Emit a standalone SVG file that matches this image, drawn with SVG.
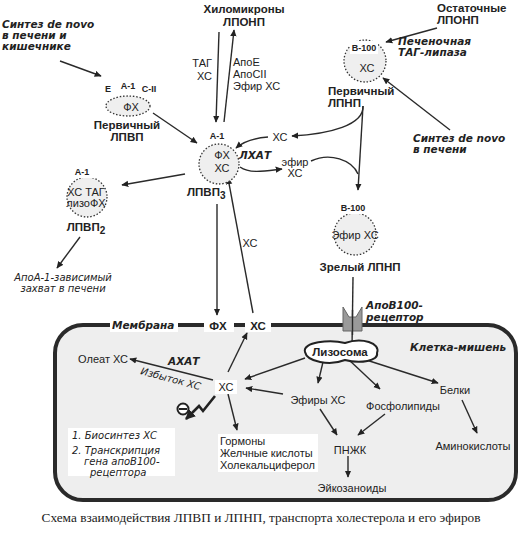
<svg xmlns="http://www.w3.org/2000/svg" width="521" height="542" viewBox="0 0 521 542">
<defs>
<marker id="ah" viewBox="0 0 10 10" refX="9" refY="5" markerWidth="7" markerHeight="7" orient="auto" markerUnits="userSpaceOnUse"><path d="M0,0.5 L10,5 L0,9.5 Z" fill="#222"/></marker>
<marker id="ahb" viewBox="0 0 10 10" refX="9" refY="5" markerWidth="10" markerHeight="10" orient="auto" markerUnits="userSpaceOnUse"><path d="M0,0 L10,5 L0,10 Z" fill="#222"/></marker>
</defs>
<style>
.t{font-family:"Liberation Sans",Arial,sans-serif;font-size:11px;fill:#222}
.b{font-family:"Liberation Sans",Arial,sans-serif;font-size:11.5px;font-weight:bold;fill:#222}
.s{font-family:"Liberation Sans",Arial,sans-serif;font-size:9px;font-weight:bold;fill:#222}
.bi{font-family:"DejaVu Sans",Verdana,sans-serif;font-size:10.5px;font-weight:bold;font-style:italic;fill:#222}
.i{font-family:"DejaVu Sans",Verdana,sans-serif;font-size:10px;font-style:italic;fill:#222}
.c{text-anchor:middle}
.ln{fill:none;stroke:#2a2a2a;stroke-width:1.4;marker-end:url(#ah)}
.part{fill:#efefef;stroke:#333;stroke-width:1.3;stroke-dasharray:1.5 1.8}
.wb{fill:#fff}
</style>
<rect width="521" height="542" fill="#fff"/>

<!-- cell -->
<g id="cell">
<rect x="55" y="325" width="461" height="175" rx="28" fill="#eeeeee" stroke="#2a2a2a" stroke-width="4"/>
<rect x="110" y="318" width="68" height="14" fill="#fff"/>
<rect x="204" y="318" width="30" height="14" fill="#fff"/>
<rect x="245" y="318" width="26" height="14" fill="#fff"/>
<text class="bi" x="112" y="329">Мембрана</text>
<text class="b" x="218" y="330" text-anchor="middle">ФХ</text>
<text class="b" x="258" y="330" text-anchor="middle">ХС</text>
<text class="bi" x="410" y="351">Клетка-мишень</text>
</g>

<!-- connectors -->
<g id="connectors">
<line class="ln" x1="219" y1="32" x2="216" y2="122"/>
<line class="ln" x1="224" y1="122" x2="234" y2="30"/>
<line class="ln" x1="60" y1="61" x2="101" y2="76"/>
<line class="ln" x1="153" y1="113" x2="197" y2="143"/>
<line class="ln" x1="437" y1="28" x2="386" y2="42"/>
<line class="ln" x1="450" y1="130" x2="383" y2="78"/>
<path class="ln" d="M363,106 C364,125 330,134 292,136"/>
<path class="ln" d="M363,106 L358,190"/>
<path class="ln" d="M268,137 C255,138 244,141 236,148"/>
<path class="ln" d="M240,167 C250,174 265,171 282,169"/>
<path class="ln" d="M311,161 C330,152 352,160 358,174" style="marker-end:none"/>
<line class="ln" x1="185" y1="174" x2="122" y2="185"/>
<line class="ln" x1="80" y1="237" x2="57" y2="268"/>
<line class="ln" x1="217" y1="204" x2="217" y2="315"/>
<line class="ln" x1="253" y1="313" x2="228" y2="178"/>
<line class="ln" x1="353" y1="277" x2="352" y2="348"/>
<line class="ln" x1="228" y1="372" x2="247" y2="333"/>
<line class="ln" x1="213" y1="380" x2="130" y2="359"/>
<line class="ln" x1="305" y1="358" x2="245" y2="379"/>
<line class="ln" x1="283" y1="394" x2="246" y2="388"/>
<line class="ln" x1="228" y1="394" x2="237" y2="430"/>
<line class="ln" x1="323" y1="362" x2="318" y2="383"/>
<line class="ln" x1="348" y1="359" x2="380" y2="389"/>
<line class="ln" x1="357" y1="357" x2="438" y2="383"/>
<line class="ln" x1="462" y1="400" x2="477" y2="433"/>
<line class="ln" x1="320" y1="409" x2="337" y2="435"/>
<line class="ln" x1="385" y1="414" x2="358" y2="435"/>
<line class="ln" x1="348" y1="456" x2="348" y2="477"/>
<path d="M215,396 L203,411 L199,406 L186,419" fill="none" stroke="#222" stroke-width="2.6" marker-end="url(#ahb)"/>
</g>

<!-- receptor -->
<g id="receptor">
<path d="M343,307 L349,317 L356,317 L362,307 L362,331 L343,331 Z" fill="#9a9a9a" stroke="#666" stroke-width="1"/>
<line x1="352.5" y1="310" x2="352.5" y2="335" stroke="#2a2a2a" stroke-width="1.4"/>
<text class="bi" x="366" y="309">АпоВ100-</text>
<text class="bi" x="366" y="321">рецептор</text>
</g>

<g id="chylo">
<text class="b c" x="244" y="13">Хиломикроны</text>
<text class="b c" x="244" y="26">ЛПОНП</text>
<text class="t" x="212" y="67" text-anchor="end">ТАГ</text>
<text class="t" x="212" y="80" text-anchor="end">ХС</text>
<text class="t" x="233" y="66">АпоЕ</text>
<text class="t" x="233" y="78">АпоСII</text>
<text class="t" x="233" y="90">Эфир ХС</text>
</g>

<g id="synth1">
<text class="bi" x="2" y="28">Синтез de novo</text>
<text class="bi" x="2" y="39">в печени и</text>
<text class="bi" x="2" y="50">кишечнике</text>
</g>

<g id="hdl-primary">
<ellipse class="part" cx="128" cy="106" rx="22" ry="10"/>
<rect class="wb" x="103" y="81" width="11" height="13"/>
<rect class="wb" x="119" y="78" width="18" height="13"/>
<rect class="wb" x="140" y="81" width="18" height="13"/>
<text class="s c" x="108" y="92">E</text>
<text class="s c" x="128" y="89">A-1</text>
<text class="s c" x="149" y="92">C-II</text>
<text class="t c" x="131" y="111">ФХ</text>
<text class="b c" x="127" y="129">Первичный</text>
<text class="b c" x="127" y="141">ЛПВП</text>
</g>

<g id="hdl3">
<circle class="part" cx="219" cy="164" r="20"/>
<rect class="wb" x="206" y="128" width="22" height="14"/>
<text class="s c" x="217" y="139">A-1</text>
<text class="t c" x="222" y="159">ФХ</text>
<text class="t c" x="222" y="172">ХС</text>
<text class="bi" x="239" y="159">ЛХАТ</text>
<text class="b" x="187" y="196">ЛПВП<tspan font-size="10" dy="3">3</tspan></text>
<text class="t c" x="280" y="141">ХС</text>
<text class="t c" x="295" y="166">эфир</text>
<text class="t c" x="295" y="177">ХС</text>
<text class="t c" x="250" y="247">ХС</text>
</g>

<g id="hdl2">
<circle class="part" cx="87" cy="197" r="20"/>
<rect class="wb" x="72" y="165" width="22" height="13"/>
<text class="s c" x="82" y="175">A-1</text>
<text class="t c" x="86" y="196">ХС ТАГ</text>
<text class="t c" x="86" y="207">лизоФХ</text>
<text class="b c" x="86" y="231">ЛПВП<tspan font-size="10" dy="3">2</tspan></text>
<text class="i c" x="63" y="281">АпоА-1-зависимый</text>
<text class="i c" x="63" y="292">захват в печени</text>
</g>

<g id="ldl-primary">
<circle class="part" cx="365" cy="61" r="21"/>
<rect class="wb" x="350" y="41" width="28" height="13"/>
<text class="s c" x="364" y="51">B-100</text>
<text class="t c" x="367" y="72">ХС</text>
<text class="b" x="328" y="95">Первичный</text>
<text class="b" x="328" y="107">ЛПНП</text>
<text class="b" x="437" y="12">Остаточные</text>
<text class="b" x="437" y="24">ЛПОНП</text>
<text class="bi" x="398" y="45">Печеночная</text>
<text class="bi" x="398" y="56">ТАГ-липаза</text>
<text class="bi" x="413" y="142">Синтез de novo</text>
<text class="bi" x="413" y="153">в печени</text>
</g>

<g id="ldl-mature">
<circle class="part" cx="355" cy="234" r="21"/>
<rect class="wb" x="340" y="201" width="28" height="13"/>
<text class="s c" x="353" y="211">B-100</text>
<text class="t c" x="355" y="239">Эфир ХС</text>
<text class="b c" x="360" y="271">Зрелый ЛПНП</text>
</g>

<g id="lysosome">
<path d="M305,352 C302,342 330,339 345,343 C362,337 381,343 377,353 C379,361 360,364 345,360 C330,366 307,362 305,352 Z" fill="#fff" stroke="#222" stroke-width="2"/>
<text class="b c" x="340" y="356" font-size="10.5">Лизосома</text>
</g>

<g id="cell-items">
<text class="t c" x="103" y="363">Олеат ХС</text>
<text class="bi" x="168" y="365">АХАТ</text>
<text class="i" x="140" y="374" transform="rotate(15 140 374)">Избыток ХС</text>
<rect class="wb" x="215" y="380" width="22" height="14"/>
<text class="t c" x="226" y="391">ХС</text>
<circle cx="183" cy="409" r="5.5" fill="#fff" stroke="#222" stroke-width="2"/>
<line x1="179" y1="409" x2="187" y2="409" stroke="#222" stroke-width="2"/>
<rect class="wb" x="68" y="428" width="107" height="48"/>
<text class="i" x="72" y="439">1.  Биосинтез ХС</text>
<text class="i" x="72" y="454">2.  Транскрипция</text>
<text class="i" x="84" y="465">гена апоВ100-</text>
<text class="i" x="90" y="476">рецептора</text>
<rect class="wb" x="218" y="434" width="100" height="38"/>
<text class="t" x="220" y="445">Гормоны</text>
<text class="t" x="220" y="457">Желчные кислоты</text>
<text class="t" x="220" y="469">Холекальциферол</text>
<text class="t c" x="318" y="404">Эфиры ХС</text>
<text class="t c" x="403" y="410">Фосфолипиды</text>
<text class="t c" x="455" y="394">Белки</text>
<text class="t c" x="473" y="450">Аминокислоты</text>
<text class="t c" x="350" y="454">ПНЖК</text>
<text class="t c" x="352" y="492">Эйкозаноиды</text>
</g>

<text x="261" y="522" text-anchor="middle" font-family="Liberation Serif,'Times New Roman',serif" font-size="13.3" fill="#222">Схема взаимодействия ЛПВП и ЛПНП, транспорта холестерола и его эфиров</text>
</svg>
